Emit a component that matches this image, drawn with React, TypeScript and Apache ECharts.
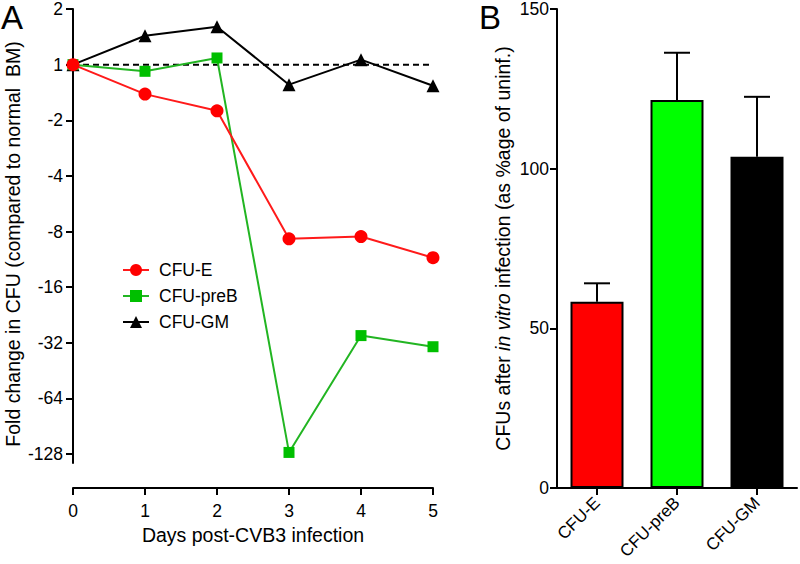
import React, { useEffect, useRef } from "react";
import * as echarts from "echarts";

// Panel A: days and log2 fold-change values (0 = no change, 1 = 2-fold up, -1 = 2-fold down)
const days = [0, 1, 2, 3, 4, 5];
const cfuE = [0, -0.53, -0.83, -3.13, -3.09, -3.47];
const cfuPreB = [0, -0.12, 0.12, -6.97, -4.87, -5.07];
const cfuGM = [0, 0.52, 0.68, -0.36, 0.09, -0.38];
const yTicksA = [1, 0, -1, -2, -3, -4, -5, -6, -7];
const legendNames = ["CFU-E", "CFU-preB", "CFU-GM"];

// Panel B
const barCategories = ["CFU-E", "CFU-preB", "CFU-GM"];
const barMeans = [58.3, 121.5, 103.7];
const barErrors = [5.8, 14.8, 18.8];
const barColors = ["#ff0000", "#00ff00", "#000000"];

const FONT = "'Liberation Sans', Arial, sans-serif";

const foldLabel = (v: number) => {
  const r = Math.round(v);
  return r >= 0 ? String(Math.pow(2, r)) : String(-Math.pow(2, -r));
};

export default function App() {
  const ref = useRef<HTMLDivElement>(null);
  useEffect(() => {
    document.body.style.margin = "0";
    const chart = echarts.init(ref.current!, null, { renderer: "svg" });
    const axisLine = { show: true, onZero: false, lineStyle: { color: "#000", width: 2 } };
    const axisTick = { show: true, length: 7, lineStyle: { color: "#000", width: 2 } };
    const labelStyle = { color: "#000", fontSize: 17.5, fontFamily: FONT };
    const option: any = {
      animation: false,
      backgroundColor: "#fff",
      textStyle: { fontFamily: FONT },
      grid: [
        { left: 73, top: 7, width: 360, height: 456 },
        { left: 557, top: 7, width: 240, height: 481 },
      ],
      legend: {
        data: legendNames,
        orient: "vertical",
        left: 117,
        top: 256,
        itemWidth: 26,
        itemHeight: 15,
        itemGap: 8,
        textStyle: { fontSize: 17.5, color: "#000", fontFamily: FONT, padding: [0, 0, 0, 5] },
      },
      xAxis: [
        {
          type: "value",
          gridIndex: 0,
          min: 0,
          max: 5,
          interval: 1,
          offset: 25,
          axisLine,
          axisTick,
          splitLine: { show: false },
          axisLabel: { ...labelStyle, margin: 14 },
          name: "Days post-CVB3 infection",
          nameLocation: "middle",
          nameGap: 36,
          nameTextStyle: { fontSize: 19.5, color: "#000", fontFamily: FONT },
        },
        {
          type: "category",
          gridIndex: 1,
          data: barCategories,
          axisLine,
          axisTick: { ...axisTick, alignWithLabel: true },
          axisLabel: { ...labelStyle, fontSize: 17, rotate: 45, margin: 12 },
        },
      ],
      yAxis: [
        {
          type: "value",
          gridIndex: 0,
          min: -7.16,
          max: 1,
          axisLine,
          axisTick: { ...axisTick, customValues: yTicksA },
          splitLine: { show: false },
          axisLabel: { ...labelStyle, margin: 10, customValues: yTicksA, formatter: foldLabel },
        },
        {
          type: "value",
          gridIndex: 1,
          min: 0,
          max: 150,
          interval: 50,
          axisLine,
          axisTick,
          splitLine: { show: false },
          axisLabel: { ...labelStyle, margin: 8 },
          name: "CFUs after {i|in vitro} infection (as %age of uninf.)",
          nameLocation: "middle",
          nameGap: 44,
          nameTextStyle: {
            fontSize: 19.5,
            color: "#000",
            fontFamily: FONT,
            rich: { i: { fontStyle: "italic", fontSize: 19.5, color: "#000", fontFamily: FONT } },
          },
        },
      ],
      graphic: [
        { type: "text", left: 1, top: 1, style: { text: "A", fontSize: 33, fill: "#000", fontFamily: FONT } },
        { type: "text", left: 479, top: 1, style: { text: "B", fontSize: 33, fill: "#000", fontFamily: FONT } },
        {
          type: "text",
          x: 13,
          y: 244,
          rotation: Math.PI / 2,
          style: {
            text: "Fold change in CFU (compared to normal  BM)",
            fontSize: 19.5,
            fill: "#000",
            fontFamily: FONT,
            align: "center",
            verticalAlign: "middle",
          },
        },
      ],
      series: [
        {
          type: "line",
          name: "ref",
          xAxisIndex: 0,
          yAxisIndex: 0,
          data: [[days[0], 0], [days[days.length - 1], 0]],
          symbol: "none",
          lineStyle: { color: "#000", width: 2, type: [6, 4] },
          z: 1,
        },
        {
          type: "line",
          name: "CFU-GM",
          xAxisIndex: 0,
          yAxisIndex: 0,
          data: days.map((d, i) => [d, cfuGM[i]]),
          symbol: "triangle",
          symbolSize: 13,
          itemStyle: { color: "#000" },
          lineStyle: { color: "#000", width: 2 },
          z: 2,
        },
        {
          type: "line",
          name: "CFU-preB",
          xAxisIndex: 0,
          yAxisIndex: 0,
          data: days.map((d, i) => [d, cfuPreB[i]]),
          symbol: "rect",
          symbolSize: 11,
          itemStyle: { color: "#00bf00" },
          lineStyle: { color: "#22b522", width: 2 },
          z: 3,
        },
        {
          type: "line",
          name: "CFU-E",
          xAxisIndex: 0,
          yAxisIndex: 0,
          data: days.map((d, i) => [d, cfuE[i]]),
          symbol: "circle",
          symbolSize: 13,
          itemStyle: { color: "#ff0000" },
          lineStyle: { color: "#ff1a1a", width: 2 },
          z: 4,
        },
        {
          type: "custom",
          name: "err",
          xAxisIndex: 1,
          yAxisIndex: 1,
          data: barMeans.map((m, i) => [i, m, m + barErrors[i]]),
          encode: { x: 0, y: [1, 2] },
          z: 1,
          renderItem: (params: any, api: any) => {
            const base = api.coord([api.value(0), api.value(1)]);
            const top = api.coord([api.value(0), api.value(2)]);
            const st = { stroke: "#000", lineWidth: 2 };
            return {
              type: "group",
              children: [
                { type: "line", shape: { x1: base[0], y1: base[1], x2: base[0], y2: top[1] }, style: st },
                { type: "line", shape: { x1: base[0] - 13, y1: top[1], x2: base[0] + 13, y2: top[1] }, style: st },
              ],
            };
          },
        },
        {
          type: "bar",
          name: "bars",
          xAxisIndex: 1,
          yAxisIndex: 1,
          barWidth: 53,
          data: barMeans.map((m, i) => ({
            value: m,
            itemStyle: { color: barColors[i], borderColor: "#000", borderWidth: 2 },
          })),
          z: 2,
        },
      ],
    };
    chart.setOption(option);
    return () => chart.dispose();
  }, []);
  return <div ref={ref} style={{ width: 800, height: 564, position: "absolute", left: 0, top: 0 }} />;
}
